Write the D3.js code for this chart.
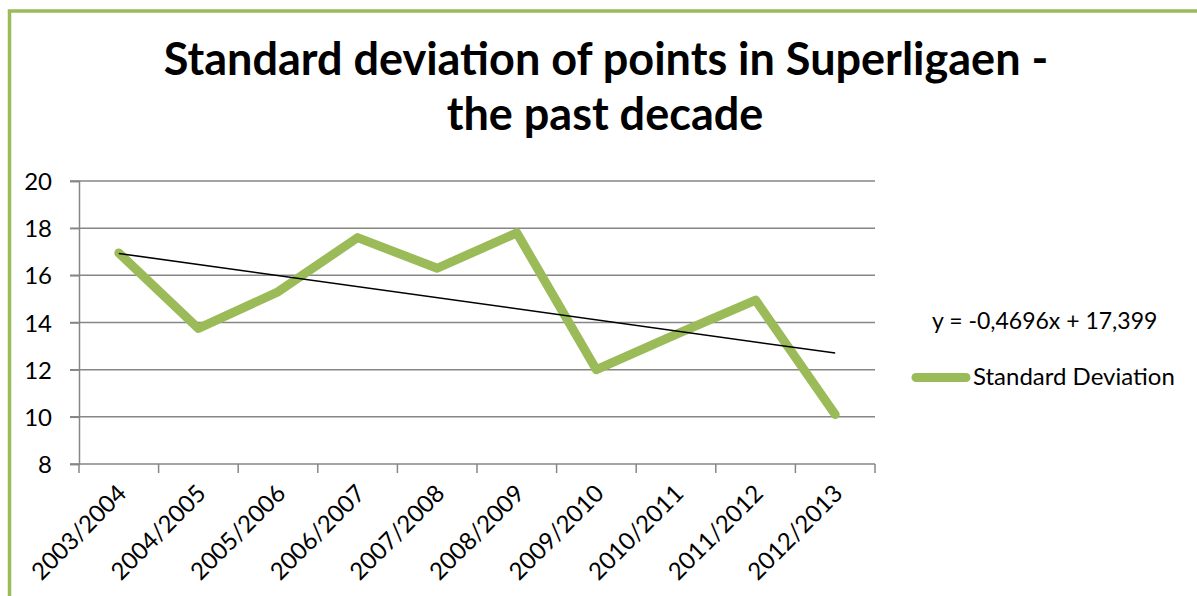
<!DOCTYPE html>
<html>
<head>
<meta charset="utf-8">
<script src="https://cdn.jsdelivr.net/npm/d3@7"></script>
<style>
  body { margin: 0; background: #fff; }
  svg { display: block; }
</style>
</head>
<body>
<script>
// seasons on the x axis
let seasons = ["2003/2004", "2004/2005", "2005/2006", "2006/2007", "2007/2008",
               "2008/2009", "2009/2010", "2010/2011", "2011/2012", "2012/2013"]
// standard deviation of points per season
let std_dev = [16.95, 13.75, 15.3, 17.6, 16.3, 17.8, 12.0, 13.5, 14.95, 10.1]
// trendline coefficients shown in the legend
let trend_slope = -0.4696
let trend_intercept = 17.399
let y_ticks = [8, 10, 12, 14, 16, 18, 20]

let W = 1197, H = 596
let green = "#9bbb59"
let grid_col = "#868686"
let font = "Lato, 'Open Sans', sans-serif"

let svg = d3.select("body").append("svg")
    .attr("width", W)
    .attr("height", H)

// chart border (only left and top edges are visible in the window)
svg.append("rect")
    .attr("x", 9.5)
    .attr("y", 11)
    .attr("width", W + 20)
    .attr("height", H + 20)
    .attr("fill", "none")
    .attr("stroke", green)
    .attr("stroke-width", 3.5)

// title
let title = svg.append("text")
    .attr("text-anchor", "middle")
    .attr("font-family", font)
    .attr("font-weight", "bold")
    .attr("font-size", 45)
    .style("fill", "#000")
title.append("tspan").attr("x", 606).attr("y", 75).text("Standard deviation of points in Superligaen -")
title.append("tspan").attr("x", 605).attr("y", 130).text("the past decade")

let x = d3.scaleBand().domain(seasons).range([79, 875])
let y = d3.scaleLinear().domain([8, 20]).range([464, 181])

// gridlines
svg.append("g")
    .selectAll("line")
    .data(y_ticks)
    .join("line")
    .attr("x1", 70)
    .attr("x2", 875)
    .attr("y1", d => y(d))
    .attr("y2", d => y(d))
    .attr("stroke", grid_col)
    .attr("stroke-width", 1.5)

// y axis
let y_axis = svg.append("g")
    .attr("transform", "translate(79,0)")
    .call(d3.axisLeft(y).tickValues(y_ticks).tickSize(9).tickPadding(18))
y_axis.select(".domain").attr("stroke", grid_col).attr("stroke-width", 1.5)
y_axis.selectAll(".tick line").attr("stroke", grid_col).attr("stroke-width", 1.5)
y_axis.selectAll("text")
    .attr("font-family", font)
    .attr("font-size", 24)
    .attr("fill", "#000")
    .attr("dy", "0.36em")

// x axis: ticks sit on the band edges
let edges = seasons.map(d => x(d)).concat([875])
svg.append("g")
    .selectAll("line")
    .data(edges)
    .join("line")
    .attr("x1", d => d)
    .attr("x2", d => d)
    .attr("y1", 464)
    .attr("y2", 473)
    .attr("stroke", grid_col)
    .attr("stroke-width", 1.5)

svg.append("g")
    .selectAll("text")
    .data(seasons)
    .join("text")
    .attr("text-anchor", "end")
    .attr("font-family", font)
    .attr("font-size", 24)
    .attr("transform", d => "translate(" + (x(d) + x.bandwidth() / 2 + 9) + ",495) rotate(-45)")
    .text(d => d)

let cx = d => x(d) + x.bandwidth() / 2

// data line
svg.append("path")
    .datum(std_dev)
    .attr("fill", "none")
    .attr("stroke", green)
    .attr("stroke-width", 9)
    .attr("stroke-linejoin", "round")
    .attr("stroke-linecap", "round")
    .attr("d", d3.line().x((d, i) => cx(seasons[i])).y(d => y(d)))

// linear trendline
let trend = [1, seasons.length].map(n => ({ s: seasons[n - 1], v: trend_slope * n + trend_intercept }))
svg.append("path")
    .datum(trend)
    .attr("fill", "none")
    .attr("stroke", "#000")
    .attr("stroke-width", 1.5)
    .attr("d", d3.line().x(d => cx(d.s)).y(d => y(d.v)))

// legend
svg.append("text")
    .attr("x", 932)
    .attr("y", 329)
    .attr("font-family", font)
    .attr("font-size", 23)
    .text("y = -0,4696x + 17,399")

svg.append("line")
    .attr("x1", 916)
    .attr("x2", 966)
    .attr("y1", 377.5)
    .attr("y2", 377.5)
    .attr("stroke", green)
    .attr("stroke-width", 9)
    .attr("stroke-linecap", "round")

svg.append("text")
    .attr("x", 973)
    .attr("y", 385)
    .attr("font-family", font)
    .attr("font-size", 24)
    .text("Standard Deviation")
</script>
</body>
</html>
